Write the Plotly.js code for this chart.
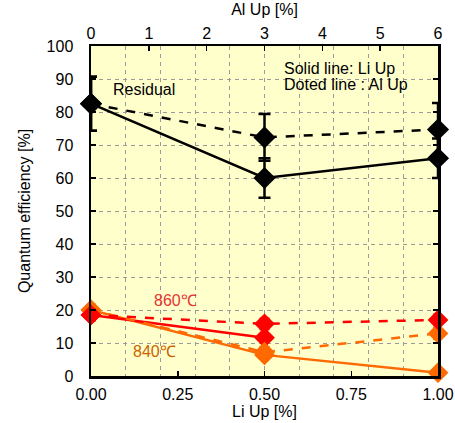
<!DOCTYPE html>
<html>
<head>
<meta charset="utf-8">
<script src="https://cdn.plot.ly/plotly-3.0.1.min.js"></script>
<style>html,body{margin:0;padding:0;background:#fff}#chart{width:455px;height:423px}</style>
</head>
<body>
<div id="chart"></div>
<script>
// Data
const liUp = [0, 0.5, 1.0];
const alUp = [0, 3, 6];
const residualLi = [82.5, 60.0, 66.0];
const residualLiErr = [8.2, 6.0, 6.0];
const residualAl = [82.5, 72.3, 74.7];
const residualAlErr = [8.2, 7.1, 8.0];
const t860Li = [18.5, 11.6];
const t860Al = [18.5, 15.8, 17.0];
const t840Li = [20.0, 6.4, 1.0];
const t840Al = [20.0, 7.2, 12.9];
const xTickVals = [0, 0.25, 0.5, 0.75, 1.0];
const xTickText = ['0.00', '0.25', '0.50', '0.75', '1.00'];
const topTickVals = [0, 1, 2, 3, 4, 5, 6];
const yTickVals = [0, 10, 20, 30, 40, 50, 60, 70, 80, 90, 100];

const BLACK = '#000000', RED = '#FF0000', ORANGE = '#FF6A00';
const FAM = 'Liberation Sans, Arial, sans-serif';
const dmd = (c, s) => ({symbol: 'diamond', size: s, color: c, line: {width: 0}});

const traces = [
  {x: liUp, y: residualLi, xaxis: 'x', yaxis: 'y', mode: 'lines+markers', cliponaxis: false,
   line: {color: BLACK, width: 2.5}, marker: dmd(BLACK, 17),
   error_y: {type: 'data', array: residualLiErr, visible: true, color: BLACK, thickness: 2.5, width: 6}},
  {x: alUp, y: residualAl, xaxis: 'x2', yaxis: 'y', mode: 'lines+markers', cliponaxis: false,
   line: {color: BLACK, width: 2.5, dash: 'dash'}, marker: dmd(BLACK, 17),
   error_y: {type: 'data', array: residualAlErr, visible: true, color: BLACK, thickness: 2.5, width: 6}},
  {x: alUp, y: t840Al, xaxis: 'x2', yaxis: 'y', mode: 'lines+markers', cliponaxis: false,
   line: {color: ORANGE, width: 2.5, dash: 'dash'}, marker: dmd(ORANGE, 16),
   error_y: {type: 'data', array: [1.5, 1.5, 1.5], visible: true, color: ORANGE, thickness: 3, width: 5}},
  {x: liUp, y: t840Li, xaxis: 'x', yaxis: 'y', mode: 'lines+markers', cliponaxis: false,
   line: {color: ORANGE, width: 2.5}, marker: dmd(ORANGE, 16)},
  {x: alUp, y: t860Al, xaxis: 'x2', yaxis: 'y', mode: 'lines+markers', cliponaxis: false,
   line: {color: RED, width: 2.5, dash: 'dash'}, marker: dmd(RED, 16),
   error_y: {type: 'data', array: [1.5, 1.5, 1.5], visible: true, color: RED, thickness: 3, width: 5}},
  {x: liUp.slice(0, 2), y: t860Li, xaxis: 'x', yaxis: 'y', mode: 'lines+markers', cliponaxis: false,
   line: {color: RED, width: 2.5}, marker: dmd(RED, 16)}
];

const tickFont = {family: FAM, size: 16, color: '#000'};
const layout = {
  width: 455, height: 423,
  margin: {l: 91, r: 17, t: 46, b: 47, pad: 0},
  paper_bgcolor: '#ffffff', plot_bgcolor: '#FFFFCC',
  showlegend: false,
  font: {family: FAM, size: 16, color: '#000'},
  xaxis: {range: [0, 1], tickvals: xTickVals, ticktext: xTickText, ticks: 'inside', ticklen: 5,
          tickwidth: 1.5, tickcolor: '#000', showgrid: false, zeroline: false,
          showline: true, linecolor: '#000', linewidth: 2.5, mirror: true,
          tickfont: tickFont, ticklabelstandoff: 2,
          title: {text: 'Li Up [%]', font: {family: FAM, size: 16}, standoff: 0}},
  xaxis2: {range: [0, 6], overlaying: 'x', side: 'top', tickvals: topTickVals, ticks: 'inside', ticklen: 5,
           tickwidth: 1.5, tickcolor: '#000', showgrid: false, zeroline: false, showline: false,
           tickfont: tickFont, ticklabelstandoff: 3,
           title: {text: 'Al Up [%]', font: {family: FAM, size: 16}, standoff: 5}},
  xaxis3: {range: [0, 1], overlaying: 'x', dtick: 0.1, tick0: 0, showgrid: true, gridcolor: '#9a9a9a',
           griddash: '4px,4px', gridwidth: 1, showticklabels: false, ticks: '', zeroline: false, showline: false},
  yaxis: {range: [0, 100], tickvals: yTickVals, ticks: 'inside', ticklen: 5, tickwidth: 1.5, tickcolor: '#000',
          showgrid: true, gridcolor: '#9a9a9a', griddash: '4px,4px', gridwidth: 1, zeroline: false,
          showline: true, linecolor: '#000', linewidth: 2.5, mirror: 'ticks',
          tickfont: tickFont, ticklabelstandoff: 12,
          title: {text: 'Quantum efficiency [%]', font: {family: FAM, size: 16}, standoff: 12}},
  annotations: [
    {xref: 'x', yref: 'y', x: 0.153, y: 86.7, text: 'Residual', showarrow: false,
     font: {family: FAM, size: 16, color: '#000'}},
    {xref: 'x', yref: 'y', x: 0.55, y: 93.1, text: 'Solid line: Li Up', showarrow: false, xanchor: 'left',
     font: {family: FAM, size: 16, color: '#000'}},
    {xref: 'x', yref: 'y', x: 0.55, y: 88.3, text: 'Doted line : Al Up', showarrow: false, xanchor: 'left',
     font: {family: FAM, size: 16, color: '#000'}},
    {xref: 'x', yref: 'y', x: 0.243, y: 23.0, text: '860℃', showarrow: false,
     font: {family: FAM, size: 16, color: '#E83535'}},
    {xref: 'x', yref: 'y', x: 0.182, y: 7.3, text: '840℃', showarrow: false,
     font: {family: FAM, size: 16, color: '#C86400'}}
  ]
};
traces.push({x: [0], y: [0], xaxis: 'x3', yaxis: 'y', mode: 'markers', marker: {opacity: 0}, hoverinfo: 'skip'});
Plotly.newPlot('chart', traces, layout, {staticPlot: true, displayModeBar: false});
</script>
</body>
</html>
